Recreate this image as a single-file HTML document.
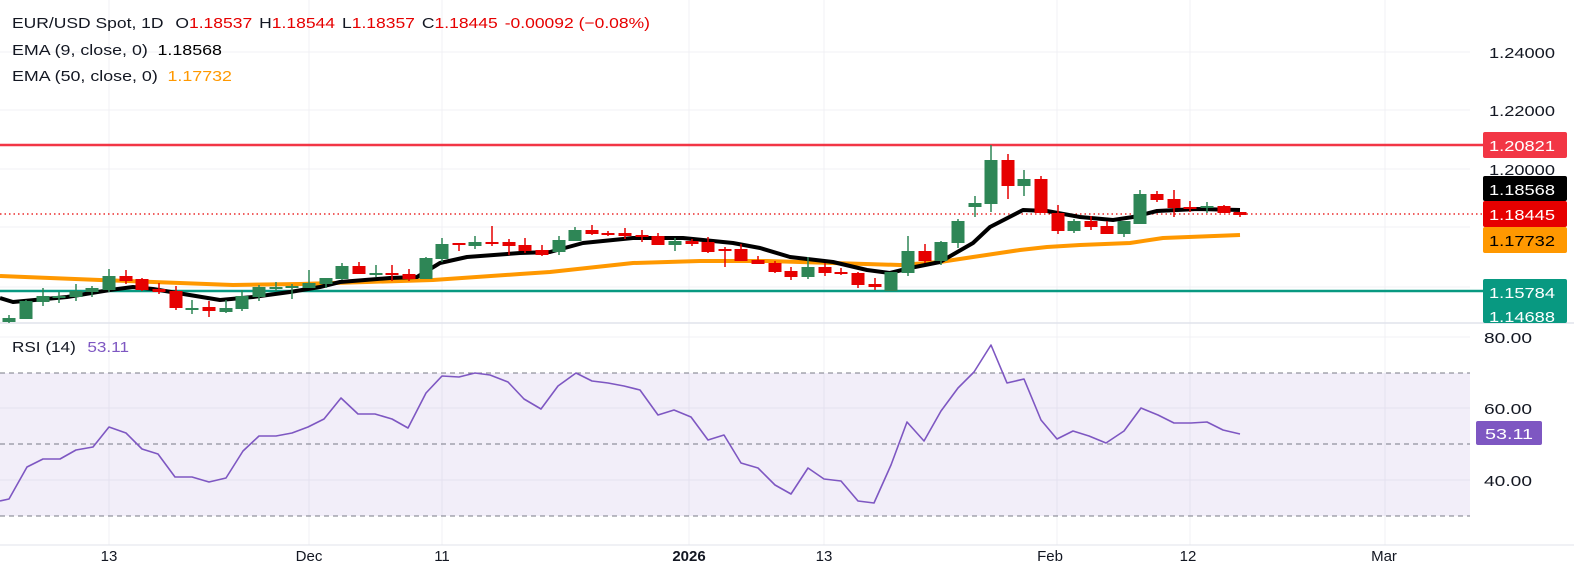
<!DOCTYPE html>
<html><head><meta charset="utf-8"><style>
body{margin:0;background:#fff;width:1574px;height:578px;overflow:hidden;font-family:"Liberation Sans",sans-serif}
svg{position:absolute;left:0;top:0}
text{font-family:"Liberation Sans",sans-serif}
</style></head><body>
<svg width="1574" height="578" viewBox="0 0 1574 578" xmlns="http://www.w3.org/2000/svg">
<rect width="1574" height="578" fill="#fff"/>
<g stroke="#f0f1f4" stroke-width="1">
<path d="M0 52H1470M0 110H1470M0 169H1470M0 227H1470M0 287H1470M0 337H1470M0 408H1470M0 480H1470"/>
<path d="M109 0V545M309 0V545M442 0V545M689 0V545M824 0V545M1057 0V545M1190 0V545M1385 0V545"/>
</g>
<line x1="0" y1="323" x2="1574" y2="323" stroke="#e0e3eb" stroke-width="1.5"/>
<line x1="0" y1="545" x2="1574" y2="545" stroke="#e0e3eb" stroke-width="1"/>
<rect x="0" y="373" width="1470" height="143" fill="#7e57c2" fill-opacity="0.1"/>
<g stroke="#787b86" stroke-dasharray="5,4" stroke-width="1">
<path d="M0 373H1470M0 444H1470M0 516H1470"/>
</g>
<line x1="0" y1="145" x2="1483" y2="145" stroke="#f23645" stroke-width="2.5"/>
<line x1="0" y1="291" x2="1483" y2="291" stroke="#089981" stroke-width="2.5"/>
<line x1="0" y1="214" x2="1483" y2="214" stroke="#e60000" stroke-width="1.2" stroke-dasharray="1.5,3"/>
<polyline fill="none" stroke="#ff9800" stroke-width="4" stroke-linejoin="round" points="0,276 100,280 233,285 300,284 367,282 433,280 520,274 550,272 633,263 700,261 767,261 833,263 900,265 940,262 973,257 1020,250 1047,247 1080,245 1130,243 1163,238 1240,235"/>
<polyline fill="none" stroke="#000" stroke-width="4" stroke-linejoin="round" points="0,298 13,302 67,297 110,290 133,287 153,289 220,300 253,297 290,292 320,287 340,282 390,278 417,277 440,263 467,257 520,253 550,252 583,243 633,238 683,238 733,243 760,248 790,257 833,262 867,270 890,273 910,268 940,262 973,243 990,227 1023,210 1047,211 1080,217 1113,220 1133,217 1157,211 1197,209 1240,210"/>
<g fill="#2e8656" stroke="#2e8656" stroke-width="1.5">
<path d="M9 315V323M26 300V319M43 288V306M59 292V303M76 284V301M92 286V297M109 269V292M192 300V314M226 300V313M242 290V311M259 285V301M276 282V291M292 284V299M309 270V288M326 278V288M342 263V280M376 265V277M426 257V279M442 238V262M475 236V249M559 236V255M575 227V241M675 238V251M808 257V279M891 272V291M908 236V276M941 241V265M958 219V248M975 196V217M991 145V212M1024 170V196M1074 219V233M1124 221V237M1140 190V224M1207 202V213"/>
</g>
<g fill="#2e8656">
<rect x="2.5" y="318" width="13" height="4"/><rect x="19.5" y="301" width="13" height="18"/><rect x="36.5" y="296" width="13" height="6"/><rect x="52.5" y="296" width="13" height="2"/><rect x="69.5" y="291" width="13" height="6"/><rect x="85.5" y="288" width="13" height="4"/><rect x="102.5" y="276" width="13" height="14"/><rect x="185.5" y="308" width="13" height="2"/><rect x="219.5" y="308" width="13" height="4"/><rect x="235.5" y="296" width="13" height="13"/><rect x="252.5" y="287" width="13" height="10"/><rect x="269.5" y="287" width="13" height="2"/><rect x="285.5" y="286" width="13" height="2"/><rect x="302.5" y="283" width="13" height="5"/><rect x="319.5" y="278" width="13" height="6"/><rect x="335.5" y="266" width="13" height="13"/><rect x="369.5" y="273" width="13" height="2"/><rect x="419.5" y="258" width="13" height="21"/><rect x="435.5" y="244" width="13" height="15"/><rect x="468.5" y="242" width="13" height="4"/><rect x="552.5" y="240" width="13" height="12"/><rect x="568.5" y="230" width="13" height="11"/><rect x="668.5" y="241" width="13" height="4"/><rect x="801.5" y="267" width="13" height="10"/><rect x="884.5" y="272" width="13" height="19"/><rect x="901.5" y="251" width="13" height="22"/><rect x="934.5" y="242" width="13" height="19"/><rect x="951.5" y="221" width="13" height="22"/><rect x="968.5" y="203" width="13" height="4"/><rect x="984.5" y="160" width="13" height="44"/><rect x="1017.5" y="179" width="13" height="7"/><rect x="1067.5" y="221" width="13" height="10"/><rect x="1117.5" y="221" width="13" height="13"/><rect x="1133.5" y="194" width="13" height="30"/><rect x="1200.5" y="206" width="13" height="2"/>
</g>
<g stroke="#e60000" stroke-width="1.5">
<path d="M126 270V284M142 278V291M159 283V294M176 286V310M209 301V317M359 262V274M392 265V281M409 269V281M459 243V251M492 226V246M509 239V255M525 238V253M542 245V256M592 225V235M608 231V236M625 228V239M642 230V242M658 233V245M692 239V246M708 237V253M725 247V267M741 244V261M758 256V264M775 261V273M791 267V280M825 263V276M841 268V275M858 272V288M875 278V290M925 244V263M1008 154V199M1041 176V213M1058 205V234M1091 216V230M1107 221V234M1157 191V202M1174 190V217M1190 201V212M1224 205V213M1240 212V217"/>
</g>
<g fill="#e60000">
<rect x="119.5" y="276" width="13" height="5"/><rect x="135.5" y="279" width="13" height="11"/><rect x="152.5" y="289" width="13" height="3"/><rect x="169.5" y="291" width="13" height="17"/><rect x="202.5" y="307" width="13" height="4"/><rect x="352.5" y="266" width="13" height="8"/><rect x="385.5" y="273" width="13" height="2"/><rect x="402.5" y="274" width="13" height="5"/><rect x="452.5" y="243" width="13" height="2"/><rect x="485.5" y="242" width="13" height="2"/><rect x="502.5" y="242" width="13" height="4"/><rect x="518.5" y="245" width="13" height="6"/><rect x="535.5" y="250" width="13" height="5"/><rect x="585.5" y="230" width="13" height="4"/><rect x="601.5" y="233" width="13" height="2"/><rect x="618.5" y="233" width="13" height="3"/><rect x="635.5" y="235" width="13" height="2"/><rect x="651.5" y="236" width="13" height="9"/><rect x="685.5" y="241" width="13" height="3"/><rect x="701.5" y="242" width="13" height="10"/><rect x="718.5" y="249" width="13" height="2"/><rect x="734.5" y="249" width="13" height="12"/><rect x="751.5" y="260" width="13" height="4"/><rect x="768.5" y="263" width="13" height="9"/><rect x="784.5" y="271" width="13" height="6"/><rect x="818.5" y="267" width="13" height="6"/><rect x="834.5" y="272" width="13" height="2"/><rect x="851.5" y="273" width="13" height="12"/><rect x="868.5" y="284" width="13" height="3"/><rect x="918.5" y="251" width="13" height="10"/><rect x="1001.5" y="160" width="13" height="26"/><rect x="1034.5" y="179" width="13" height="34"/><rect x="1051.5" y="213" width="13" height="18"/><rect x="1084.5" y="221" width="13" height="6"/><rect x="1100.5" y="226" width="13" height="8"/><rect x="1150.5" y="194" width="13" height="6"/><rect x="1167.5" y="199" width="13" height="9"/><rect x="1183.5" y="207" width="13" height="2"/><rect x="1217.5" y="206" width="13" height="7"/><rect x="1233.5" y="212" width="13" height="3"/>
</g>
<polyline fill="none" stroke="#7e57c2" stroke-width="1.6" stroke-linejoin="round" points="0,501 9,499 27,467 43,459 60,459 76,450 93,447 109,427 126,433 142,449 158,454 175,477 192,477 209,482 226,478 243,451 259,436 276,436 292,433 308,427 324,419 341,398 358,414 375,414 392,419 408,428 426,393 442,376 459,377 475,373 490,375 508,382 524,399 541,409 558,386 576,373 592,381 608,383 624,386 640,390 658,415 674,410 691,417 708,440 724,435 741,463 758,468 775,485 791,494 808,468 824,479 841,481 858,501 874,503 891,465 907,422 924,441 941,411 958,388 974,372 991,345 1007,383 1024,379 1041,420 1057,439 1073,431 1089,436 1106,443 1124,431 1141,408 1158,415 1174,423 1191,423 1207,422 1223,430 1240,434"/>
<g font-size="15">
<text x="12" y="28" fill="#131722" textLength="638" lengthAdjust="spacingAndGlyphs">EUR/USD Spot, 1D <tspan dx="6">O</tspan><tspan fill="#e60000">1.18537</tspan><tspan dx="6">H</tspan><tspan fill="#e60000">1.18544</tspan><tspan dx="6">L</tspan><tspan fill="#e60000">1.18357</tspan><tspan dx="6">C</tspan><tspan fill="#e60000">1.18445</tspan><tspan dx="6" fill="#e60000">-0.00092 (−0.08%)</tspan></text>
<text x="12" y="55" fill="#131722" textLength="210" lengthAdjust="spacingAndGlyphs">EMA (9, close, 0) <tspan dx="4" fill="#000">1.18568</tspan></text>
<text x="12" y="81" fill="#131722" textLength="220" lengthAdjust="spacingAndGlyphs">EMA (50, close, 0) <tspan dx="4" fill="#ff9800">1.17732</tspan></text>
<text x="12" y="352" fill="#131722" textLength="117" lengthAdjust="spacingAndGlyphs">RSI (14) <tspan dx="6" fill="#7e57c2">53.11</tspan></text>
</g>
<g font-size="15" fill="#131722" text-anchor="middle">
<text x="1522" y="58" textLength="66" lengthAdjust="spacingAndGlyphs">1.24000</text>
<text x="1522" y="116" textLength="66" lengthAdjust="spacingAndGlyphs">1.22000</text>
<text x="1522" y="175" textLength="66" lengthAdjust="spacingAndGlyphs">1.20000</text>
<text x="1508" y="343" textLength="48" lengthAdjust="spacingAndGlyphs">80.00</text>
<text x="1508" y="414" textLength="48" lengthAdjust="spacingAndGlyphs">60.00</text>
<text x="1508" y="486" textLength="48" lengthAdjust="spacingAndGlyphs">40.00</text>
</g>
<g font-size="15" text-anchor="middle">
<rect x="1483" y="132" width="84" height="26" rx="2" fill="#f23645"/><text x="1522" y="151" fill="#fff" textLength="66" lengthAdjust="spacingAndGlyphs">1.20821</text>
<rect x="1483" y="176" width="84" height="25" rx="2" fill="#000"/><text x="1522" y="195" fill="#fff" textLength="66" lengthAdjust="spacingAndGlyphs">1.18568</text>
<rect x="1483" y="201" width="84" height="26" rx="2" fill="#e60000"/><text x="1522" y="220" fill="#fff" textLength="66" lengthAdjust="spacingAndGlyphs">1.18445</text>
<rect x="1483" y="227" width="84" height="26" rx="2" fill="#ff9800"/><text x="1522" y="246" fill="#000" textLength="66" lengthAdjust="spacingAndGlyphs">1.17732</text>
<rect x="1483" y="279" width="84" height="44" rx="2" fill="#089981"/><text x="1522" y="298" fill="#fff" textLength="66" lengthAdjust="spacingAndGlyphs">1.15784</text>
<text x="1522" y="322" fill="#fff" textLength="66" lengthAdjust="spacingAndGlyphs">1.14688</text>
<rect x="1476" y="421" width="66" height="24" rx="2" fill="#7e57c2"/><text x="1509" y="439" fill="#fff" textLength="48" lengthAdjust="spacingAndGlyphs">53.11</text>
</g>
<g font-size="15" fill="#131722" text-anchor="middle">
<text x="109" y="561">13</text>
<text x="309" y="561">Dec</text>
<text x="442" y="561">11</text>
<text x="689" y="561" font-weight="bold">2026</text>
<text x="824" y="561">13</text>
<text x="1050" y="561">Feb</text>
<text x="1188" y="561">12</text>
<text x="1384" y="561">Mar</text>
</g>
</svg>
</body></html>
